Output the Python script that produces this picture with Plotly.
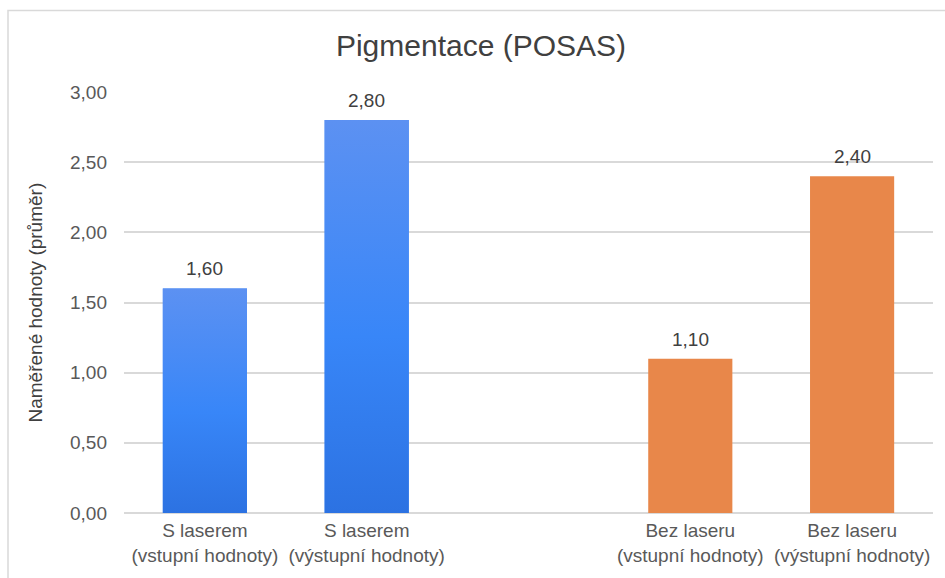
import plotly.graph_objects as go

# Category positions: an empty slot separates the two groups
positions = [0, 1, 3, 4]
tick_labels = [
    "S laserem<br>(vstupní hodnoty)",
    "S laserem<br>(výstupní hodnoty)",
    "Bez laseru<br>(vstupní hodnoty)",
    "Bez laseru<br>(výstupní hodnoty)",
]
values = [1.60, 2.80, 1.10, 2.40]
bar_colors = ["#3A84F5", "#3A84F5", "#E8874A", "#E8874A"]
# Vertical gradient (bottom -> top) used on the blue bars
blue_gradient = [[0.0, "#2C72E2"], [0.45, "#3886F8"], [1.0, "#5C91F2"]]

title_text = "Pigmentace (POSAS)"
y_title = "Naměřené hodnoty (průměr)"

FONT = "Liberation Sans, Arial, sans-serif"
W, H = 945, 578
L, R, T, B = 124, 12, 92, 62
plot_w = W - L - R
plot_h = H - T - B
BAR_W = 0.52

fig = go.Figure(
    go.Bar(
        x=positions,
        y=values,
        marker=dict(color=bar_colors, line=dict(width=0)),
        width=BAR_W,
        hoverinfo="skip",
    )
)

# Gradient fill laid over the blue bars, same footprint as the bars
for xv, yv, col in zip(positions, values, bar_colors):
    if col != bar_colors[0]:
        continue
    x0, x1 = xv - BAR_W / 2, xv + BAR_W / 2
    fig.add_trace(
        go.Scatter(
            x=[x0, x1, x1, x0, x0],
            y=[0, 0, yv, yv, 0],
            mode="lines",
            line=dict(width=0),
            fill="toself",
            fillgradient=dict(type="vertical", colorscale=blue_gradient),
            hoverinfo="skip",
        )
    )

# Value labels above each bar
for xv, yv in zip(positions, values):
    fig.add_annotation(
        x=xv, y=yv,
        text=f"{yv:.2f}".replace(".", ","),
        showarrow=False,
        xanchor="center", yanchor="bottom",
        yshift=7,
        font=dict(size=19, color="#404040", family=FONT),
    )

# Light frame around the chart, open on the right and bottom edges
fig.add_shape(
    type="rect",
    xref="paper", yref="paper",
    x0=(8 - L) / plot_w, x1=(W + 10 - L) / plot_w,
    y0=-(B + 10) / plot_h, y1=(H - B - 10) / plot_h,
    line=dict(color="#D9D9D9", width=1.5),
    layer="below",
)

fig.add_annotation(
    text=y_title,
    xref="paper", yref="paper",
    x=(35 - L) / plot_w, y=0.5,
    textangle=-90,
    showarrow=False,
    xanchor="center", yanchor="middle",
    font=dict(size=19, color="#404040", family=FONT),
)

fig.update_layout(
    width=W, height=H,
    margin=dict(l=L, r=R, t=T, b=B, pad=0),
    paper_bgcolor="white",
    plot_bgcolor="white",
    separators=", ",
    showlegend=False,
    title=dict(
        text=title_text,
        x=481 / W, xref="container", xanchor="center",
        y=1 - 45 / H, yref="container", yanchor="middle",
        font=dict(size=30, color="#404040", family=FONT),
    ),
    font=dict(family=FONT),
)

fig.update_xaxes(
    range=[-0.5, 4.5],
    tickvals=positions,
    ticktext=tick_labels,
    tickfont=dict(size=19, color="#595959", family=FONT),
    showgrid=False,
    showline=False,
    zeroline=False,
    ticks="",
    ticklabelstandoff=4,
)

fig.update_yaxes(
    range=[0, 3.0],
    dtick=0.5,
    tickformat=".2f",
    tickfont=dict(size=19, color="#595959", family=FONT),
    showgrid=True,
    gridcolor="#D9D9D9",
    gridwidth=1.5,
    zeroline=True,
    zerolinecolor="#D9D9D9",
    zerolinewidth=1.5,
    showline=False,
    ticks="",
    ticklabelstandoff=16,
)

fig.write_html("out.html")
